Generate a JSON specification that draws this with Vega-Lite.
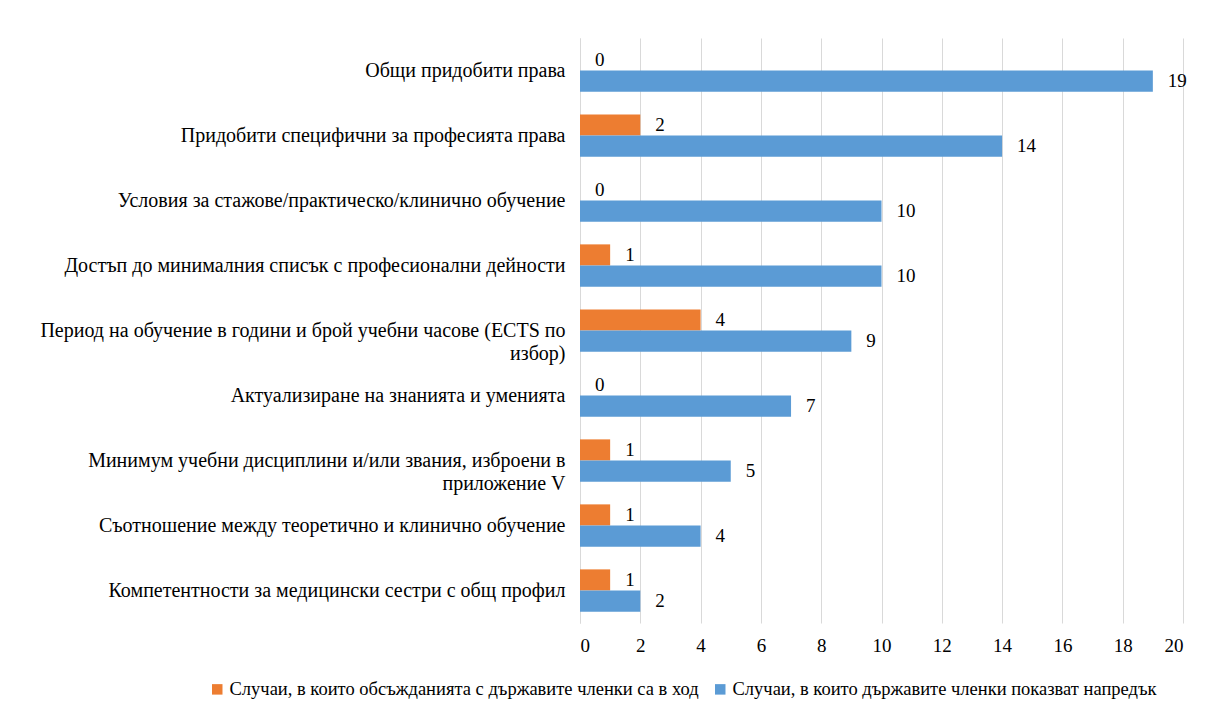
{
  "$schema": "https://vega.github.io/schema/vega-lite/v6.json",
  "autosize": {"type": "none"},
  "width": 603,
  "height": 585,
  "padding": {"left": 580, "top": 38, "right": 22, "bottom": 88},
  "background": "white",
  "data": {
    "values": [
      {"cat": "Общи придобити права", "series": "Случаи, в които обсъжданията с държавите членки са в ход", "value": 0},
      {"cat": "Общи придобити права", "series": "Случаи, в които държавите членки показват напредък", "value": 19},
      {"cat": "Придобити специфични за професията права", "series": "Случаи, в които обсъжданията с държавите членки са в ход", "value": 2},
      {"cat": "Придобити специфични за професията права", "series": "Случаи, в които държавите членки показват напредък", "value": 14},
      {"cat": "Условия за стажове/практическо/клинично обучение", "series": "Случаи, в които обсъжданията с държавите членки са в ход", "value": 0},
      {"cat": "Условия за стажове/практическо/клинично обучение", "series": "Случаи, в които държавите членки показват напредък", "value": 10},
      {"cat": "Достъп до минималния списък с професионални дейности", "series": "Случаи, в които обсъжданията с държавите членки са в ход", "value": 1},
      {"cat": "Достъп до минималния списък с професионални дейности", "series": "Случаи, в които държавите членки показват напредък", "value": 10},
      {"cat": "Период на обучение в години и брой учебни часове (ECTS по|избор)", "series": "Случаи, в които обсъжданията с държавите членки са в ход", "value": 4},
      {"cat": "Период на обучение в години и брой учебни часове (ECTS по|избор)", "series": "Случаи, в които държавите членки показват напредък", "value": 9},
      {"cat": "Актуализиране на знанията и уменията", "series": "Случаи, в които обсъжданията с държавите членки са в ход", "value": 0},
      {"cat": "Актуализиране на знанията и уменията", "series": "Случаи, в които държавите членки показват напредък", "value": 7},
      {"cat": "Минимум учебни дисциплини и/или звания, изброени в|приложение V", "series": "Случаи, в които обсъжданията с държавите членки са в ход", "value": 1},
      {"cat": "Минимум учебни дисциплини и/или звания, изброени в|приложение V", "series": "Случаи, в които държавите членки показват напредък", "value": 5},
      {"cat": "Съотношение между теоретично и клинично обучение", "series": "Случаи, в които обсъжданията с държавите членки са в ход", "value": 1},
      {"cat": "Съотношение между теоретично и клинично обучение", "series": "Случаи, в които държавите членки показват напредък", "value": 4},
      {"cat": "Компетентности за медицински сестри с общ профил", "series": "Случаи, в които обсъжданията с държавите членки са в ход", "value": 1},
      {"cat": "Компетентности за медицински сестри с общ профил", "series": "Случаи, в които държавите членки показват напредък", "value": 2}
    ]
  },
  "encoding": {
    "y": {
      "field": "cat",
      "type": "nominal",
      "sort": null,
      "scale": {"paddingInner": 0.35, "paddingOuter": 0.175},
      "axis": {
        "title": null,
        "domainColor": "#D9D9D9",
        "ticks": false,
        "labelPadding": 15,
        "labelLimit": 600,
        "labelFontSize": 20,
        "labelColor": "#000000",
        "labelExpr": "split(datum.label, '|')",
        "labelLineHeight": 23
      }
    },
    "yOffset": {
      "field": "series",
      "type": "nominal",
      "sort": ["Случаи, в които обсъжданията с държавите членки са в ход", "Случаи, в които държавите членки показват напредък"]
    },
    "x": {
      "field": "value",
      "type": "quantitative",
      "scale": {"domain": [0, 20], "nice": false},
      "axis": {
        "title": null,
        "values": [0, 2, 4, 6, 8, 10, 12, 14, 16, 18, 20],
        "domain": false,
        "ticks": false,
        "grid": true,
        "gridColor": "#D9D9D9",
        "labelPadding": 13,
        "labelFontSize": 19,
        "labelColor": "#000000"
      }
    }
  },
  "layer": [
    {
      "mark": {"type": "bar"},
      "encoding": {
        "color": {
          "field": "series",
          "type": "nominal",
          "sort": ["Случаи, в които обсъжданията с държавите членки са в ход", "Случаи, в които държавите членки показват напредък"],
          "scale": {"range": ["#ED7D31", "#5B9BD5"]},
          "legend": {
            "title": null,
            "orient": "none",
            "direction": "horizontal",
            "legendX": -372,
            "legendY": 642,
            "symbolType": "square",
            "symbolSize": 110,
            "symbolStrokeWidth": 0,
            "labelFontSize": 18.5,
            "labelColor": "#000000",
            "labelLimit": 600,
            "labelOffset": 3,
            "columnPadding": 12
          }
        }
      }
    },
    {
      "mark": {"type": "text", "align": "left", "baseline": "middle", "dx": 15, "fontSize": 19, "color": "#000000"},
      "encoding": {
        "text": {"field": "value", "type": "quantitative"}
      }
    }
  ],
  "config": {
    "font": "Liberation Serif, Times New Roman, serif",
    "view": {"stroke": null}
  }
}
